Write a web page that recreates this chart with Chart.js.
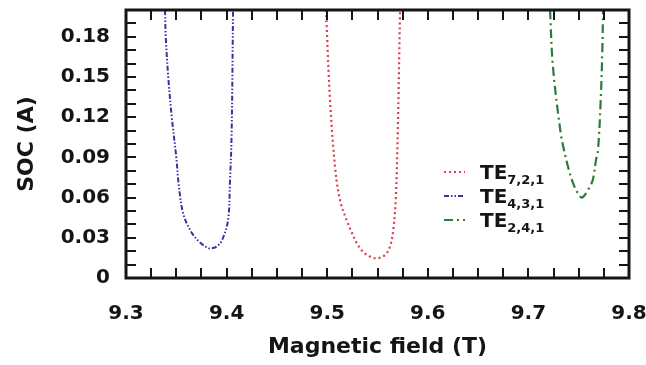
<!DOCTYPE html>
<html>
<head>
<meta charset="utf-8">
<script src="https://cdn.jsdelivr.net/npm/chart.js@4.4.1/dist/chart.umd.min.js"></script>
<style>
  html, body { margin: 0; padding: 0; background: #fff; }
  #wrap { width: 646px; height: 365px; }
</style>
</head>
<body>
<div id="wrap"><canvas id="c" width="646" height="365"></canvas></div>
<script>
// Resonance curves: SOC versus magnetic field for three TE modes
const modeSubscripts = ['7,2,1', '4,3,1', '2,4,1'];

const fieldTE721 = [9.4988, 9.5028, 9.5078, 9.5127, 9.5194, 9.5244, 9.5294, 9.5356, 9.5427, 9.5500, 9.5575, 9.5624, 9.5657, 9.5681, 9.5701, 9.5724];
const socTE721   = [0.200, 0.133, 0.083, 0.058, 0.043, 0.034, 0.026, 0.0196, 0.0159, 0.0147, 0.0172, 0.0234, 0.036, 0.058, 0.108, 0.200];

const fieldTE431 = [9.3388, 9.3395, 9.3420, 9.3455, 9.3500, 9.3525, 9.3567, 9.3636, 9.3716, 9.3815, 9.3865, 9.3910, 9.3954, 9.4014, 9.4034, 9.4050, 9.4064];
const socTE431   = [0.200, 0.180, 0.150, 0.120, 0.090, 0.069, 0.0485, 0.036, 0.028, 0.0224, 0.0224, 0.024, 0.028, 0.043, 0.073, 0.108, 0.200];

const fieldTE241 = [9.7215, 9.7244, 9.7321, 9.7354, 9.7394, 9.7443, 9.7493, 9.7533, 9.7592, 9.7639, 9.7672, 9.7692, 9.7719, 9.7735, 9.7742];
const socTE241   = [0.200, 0.1575, 0.108, 0.0955, 0.083, 0.071, 0.063, 0.060, 0.0657, 0.073, 0.088, 0.0955, 0.133, 0.170, 0.200];

const xTickValues = [9.3, 9.4, 9.5, 9.6, 9.7, 9.8];
const xTickLabels = ['9.3', '9.4', '9.5', '9.6', '9.7', '9.8'];
const yTickValues = [0, 0.03, 0.06, 0.09, 0.12, 0.15, 0.18];
const yTickLabels = ['0', '0.03', '0.06', '0.09', '0.12', '0.15', '0.18'];

const X_MIN = 9.3, X_MAX = 9.8, X_MINOR = 0.025;
const Y_MIN = 0, Y_MAX = 0.2, Y_MINOR = 0.01;

const FONT = '"DejaVu Sans", sans-serif';
const INK = '#151515';

function pairs(xs, ys) { return xs.map((x, i) => ({ x: x, y: ys[i] })); }

const datasets = [
  { label: 'TE' + modeSubscripts[0], data: pairs(fieldTE721, socTE721), borderColor: '#d8404e', borderDash: [2, 3], borderWidth: 2.2 },
  { label: 'TE' + modeSubscripts[1], data: pairs(fieldTE431, socTE431), borderColor: '#34349c', borderDash: [5, 2, 1.5, 2, 1.5, 2], borderWidth: 2 },
  { label: 'TE' + modeSubscripts[2], data: pairs(fieldTE241, socTE241), borderColor: '#2d7a3f', borderDash: [9, 4, 2, 4], borderWidth: 2.2 }
].map(d => Object.assign(d, { pointRadius: 0, fill: false, tension: 0.35 }));

// Frame, inward ticks on all four sides, and the mode legend
const framePlugin = {
  id: 'framePlugin',
  afterDatasetsDraw(chart) {
    const { ctx, chartArea: a, scales: { x, y } } = chart;
    const T = 10;
    ctx.save();
    ctx.strokeStyle = INK;
    ctx.lineWidth = 2;
    ctx.beginPath();
    for (let i = 0; X_MIN + i * X_MINOR <= X_MAX + 1e-9; i++) {
      const px = Math.round(x.getPixelForValue(X_MIN + i * X_MINOR));
      ctx.moveTo(px, a.bottom); ctx.lineTo(px, a.bottom - T);
      ctx.moveTo(px, a.top); ctx.lineTo(px, a.top + T);
    }
    for (let i = 0; Y_MIN + i * Y_MINOR <= Y_MAX + 1e-9; i++) {
      const py = Math.round(y.getPixelForValue(Y_MIN + i * Y_MINOR));
      ctx.moveTo(a.left, py); ctx.lineTo(a.left + T, py);
      ctx.moveTo(a.right, py); ctx.lineTo(a.right - T, py);
    }
    ctx.stroke();
    ctx.lineWidth = 3;
    ctx.strokeRect(a.left, a.top, a.right - a.left, a.bottom - a.top);

    // legend
    const lx = 444, ly = 172, gap = 24;
    chart.data.datasets.forEach((ds, i) => {
      const yy = ly + i * gap;
      ctx.strokeStyle = ds.borderColor;
      ctx.lineWidth = 2.2;
      ctx.setLineDash(ds.borderDash);
      ctx.beginPath(); ctx.moveTo(lx, yy); ctx.lineTo(lx + 21, yy); ctx.stroke();
      ctx.setLineDash([]);
      ctx.fillStyle = INK;
      ctx.textBaseline = 'alphabetic';
      ctx.textAlign = 'left';
      ctx.font = 'bold 20px ' + FONT;
      const base = yy + 7;
      ctx.fillText('TE', 480, base);
      const w = ctx.measureText('TE').width;
      ctx.font = 'bold 13px ' + FONT;
      ctx.fillText(modeSubscripts[i], 480 + w, base + 5);
    });
    ctx.restore();
  }
};

new Chart(document.getElementById('c'), {
  type: 'line',
  data: { datasets: datasets },
  options: {
    responsive: false,
    animation: false,
    layout: { padding: { top: 10, right: 17, left: 0, bottom: 0 } },
    plugins: { legend: { display: false }, tooltip: { enabled: false } },
    scales: {
      x: {
        type: 'linear', min: X_MIN, max: X_MAX,
        grid: { display: false, drawTicks: false },
        border: { display: false },
        afterBuildTicks(s) { s.ticks = xTickValues.map(v => ({ value: v })); },
        afterFit(s) { s.height = 87; s.paddingLeft = 0; s.paddingRight = 0; },
        ticks: {
          padding: 24, color: INK, maxRotation: 0, autoSkip: false,
          font: { family: FONT, size: 20, weight: 'bold' },
          callback: (v, i) => xTickLabels[i]
        },
        title: {
          display: true, text: 'Magnetic field (T)', color: INK,
          font: { family: FONT, size: 22, weight: 'bold' },
          padding: { top: 0, bottom: 5 }
        }
      },
      y: {
        type: 'linear', min: Y_MIN, max: Y_MAX,
        grid: { display: false, drawTicks: false },
        border: { display: false },
        afterBuildTicks(s) { s.ticks = yTickValues.map(v => ({ value: v })); },
        afterFit(s) { s.width = 126; s.paddingTop = 0; s.paddingBottom = 0; },
        ticks: {
          padding: 16, color: INK, autoSkip: false,
          font: { family: FONT, size: 20, weight: 'bold' },
          callback: (v, i) => yTickLabels[i]
        },
        title: {
          display: true, text: 'SOC (A)', color: INK,
          font: { family: FONT, size: 22, weight: 'bold' },
          padding: { top: 14, bottom: 0 }
        }
      }
    }
  },
  plugins: [framePlugin]
});
</script>
</body>
</html>
